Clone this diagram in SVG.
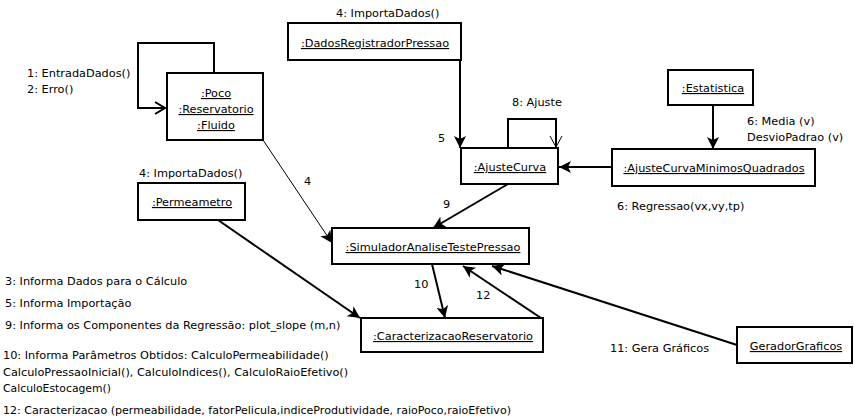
<svg xmlns="http://www.w3.org/2000/svg" width="855" height="419" viewBox="0 0 855 419">
<style>
text{font-family:"DejaVu Sans","Liberation Sans",sans-serif;font-size:11.3px;fill:#000}
.u{text-decoration:underline}
.box{fill:#fff;stroke:#000;stroke-width:2}
.c{fill:none;stroke:#000;stroke-width:2}
.t{fill:none;stroke:#000;stroke-width:1}
.m{text-anchor:middle}
</style>
<defs>
<marker id="fa" markerUnits="userSpaceOnUse" markerWidth="14" markerHeight="12" refX="12" refY="6" orient="auto"><path d="M0,0 L12,6 L0,12 L3,6 z" fill="#000"/></marker>
<marker id="oa" markerUnits="userSpaceOnUse" markerWidth="14" markerHeight="14" refX="11" refY="7" orient="auto"><path d="M1,1 L11,7 L1,13" fill="none" stroke="#000" stroke-width="2"/></marker>
<marker id="va" markerUnits="userSpaceOnUse" markerWidth="14" markerHeight="14" refX="11" refY="7" orient="auto"><path d="M0,1 L11,7 L0,13" fill="none" stroke="#000" stroke-width="1"/></marker>
</defs>
<g id="connectors">
<path class="c" d="M214,73 V43 H138 V108 H165" marker-end="url(#oa)"/>
<path class="c" d="M460,60 V148" marker-end="url(#fa)"/>
<path class="c" d="M508,148 V119 H556 V147" marker-end="url(#va)"/>
<path class="c" d="M713,105 V149" marker-end="url(#fa)"/>
<path class="c" d="M612,167 H559" marker-end="url(#fa)"/>
<path class="t" d="M263,140 L332,243" marker-end="url(#fa)"/>
<path class="c" d="M508,184 L433,228" marker-end="url(#fa)"/>
<path class="c" d="M218,220 L360,318" marker-end="url(#fa)"/>
<path class="c" d="M432,264 L445,318" marker-end="url(#fa)"/>
<path class="c" d="M541,318 L463,266" marker-end="url(#fa)"/>
<path class="c" d="M737,345 L492,266" marker-end="url(#fa)"/>
</g>
<g id="labels">
<text x="27" y="77">1: EntradaDados()</text>
<text x="27" y="93">2: Erro()</text>
<text x="336" y="17">4: ImportaDados()</text>
<text x="438" y="142">5</text>
<text x="512" y="106">8: Ajuste</text>
<text x="747" y="125">6: Media (v)</text>
<text x="747" y="141">DesvioPadrao (v)</text>
<text x="617" y="210">6: Regressao(vx,vy,tp)</text>
<text x="139" y="177">4: ImportaDados()</text>
<text x="304" y="185">4</text>
<text x="443" y="208">9</text>
<text x="414" y="288">10</text>
<text x="476" y="299">12</text>
<text x="610" y="352">11: Gera Gráficos</text>
<text x="5" y="285">3: Informa Dados para o Cálculo</text>
<text x="5" y="307">5: Informa Importação</text>
<text x="5" y="329">9: Informa os Componentes da Regressão: plot_slope (m,n)</text>
<text x="3" y="359">10: Informa Parâmetros Obtidos: CalculoPermeabilidade()</text>
<text x="3" y="376">CalculoPressaoInicial(), CalculoIndices(), CalculoRaioEfetivo()</text>
<text x="3" y="392" textLength="108" lengthAdjust="spacingAndGlyphs">CalculoEstocagem()</text>
<text x="3" y="414" textLength="508" lengthAdjust="spacingAndGlyphs">12: Caracterizacao (permeabilidade, fatorPelicula,indiceProdutividade, raioPoco,raioEfetivo)</text>
</g>
<g id="poco">
<rect class="box" x="167" y="73" width="96" height="67"/>
<text class="u m" x="216" y="97">:Poco</text>
<text class="u m" x="216" y="113">:Reservatorio</text>
<text class="u m" x="216" y="129">:Fluido</text>
</g>
<g id="dadosRegistrador">
<rect class="box" x="288" y="23" width="173" height="37"/>
<text class="u m" x="375" y="47">:DadosRegistradorPressao</text>
</g>
<g id="ajusteCurva">
<rect class="box" x="461" y="148" width="97" height="36"/>
<text class="u m" x="510" y="171">:AjusteCurva</text>
</g>
<g id="estatistica">
<rect class="box" x="668" y="70" width="85" height="35"/>
<text class="u m" x="713" y="92">:Estatistica</text>
</g>
<g id="ajusteMinimos">
<rect class="box" x="612" y="149" width="203" height="37"/>
<text class="u m" x="714" y="172">:AjusteCurvaMinimosQuadrados</text>
</g>
<g id="permeametro">
<rect class="box" x="138" y="183" width="107" height="37"/>
<text class="u m" x="192" y="206">:Permeametro</text>
</g>
<g id="simulador">
<rect class="box" x="332" y="228" width="197" height="36"/>
<text class="u m" x="433" y="251">:SimuladorAnaliseTestePressao</text>
</g>
<g id="caracterizacao">
<rect class="box" x="361" y="318" width="182" height="34"/>
<text class="u m" x="453" y="340">:CaracterizacaoReservatorio</text>
</g>
<g id="gerador">
<rect class="box" x="737" y="327" width="115" height="36"/>
<text class="u m" x="796" y="350">GeradorGraficos</text>
</g>
</svg>
